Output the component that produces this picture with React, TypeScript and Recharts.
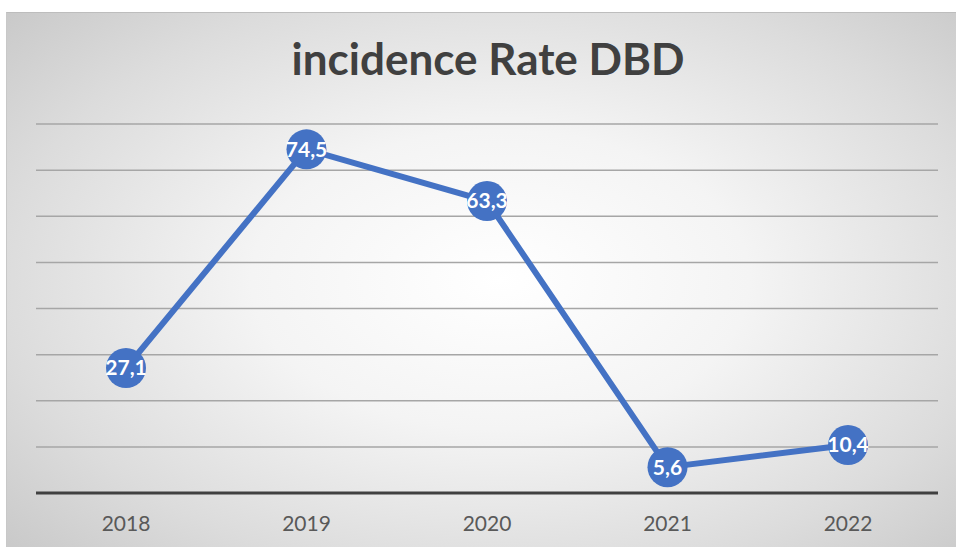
import { CartesianGrid, LabelList, Line, LineChart, XAxis, YAxis } from "recharts";

const years = ["2018", "2019", "2020", "2021", "2022"];
const incidence = [27.1, 74.5, 63.3, 5.6, 10.4];
const yTicks = [0, 10, 20, 30, 40, 50, 60, 70, 80];

const data = years.map((year, i) => ({ year, value: incidence[i] }));

const BLUE = "#4472C4";
const FONT = "Lato, 'Open Sans', sans-serif";

function PointLabel(props: any) {
  const { x, y, value } = props;
  return (
    <text
      x={x}
      y={y}
      dy="0.35em"
      textAnchor="middle"
      fill="#ffffff"
      fontSize={21}
      fontWeight={700}
      fontFamily={FONT}
    >
      {String(value).replace(".", ",")}
    </text>
  );
}

export default function App() {
  return (
    <div
      style={{
        position: "absolute",
        left: 6,
        top: 12,
        width: 950,
        height: 535,
        background:
          "radial-gradient(ellipse 75% 80% at 52% 50%, #ffffff 0%, #f4f4f4 35%, #dcdcdc 70%, #c4c4c4 100%)",
        borderTop: "1px solid #bdbdbd",
        borderLeft: "1px solid #c8c8c8",
        boxSizing: "border-box",
      }}
    >
      <div
        style={{
          position: "absolute",
          left: 13,
          right: 0,
          top: 19,
          textAlign: "center",
          fontFamily: FONT,
          fontWeight: 700,
          fontSize: 44,
          color: "#404040",
          lineHeight: "52px",
        }}
      >
        incidence Rate DBD
      </div>
      <LineChart
        width={950}
        height={535}
        data={data}
        margin={{ top: 111, right: 18, bottom: 0, left: 30 }}
        style={{ position: "absolute", left: -1, top: 0 }}
      >
        <CartesianGrid
          vertical={false}
          stroke="#a6a6a6"
          strokeWidth={1.5}
          horizontalValues={yTicks}
        />
        <YAxis hide domain={[0, 80]} ticks={yTicks} />
        <XAxis
          dataKey="year"
          height={55}
          padding={{ left: 90, right: 90 }}
          axisLine={{ stroke: "#404040", strokeWidth: 3 }}
          tickLine={false}
          tick={{ fill: "#595959", fontSize: 21, fontFamily: FONT }}
          dy={15}
        />
        <Line
          dataKey="value"
          stroke={BLUE}
          strokeWidth={6}
          dot={{ r: 20, fill: BLUE, stroke: "none" }}
          activeDot={false}
          isAnimationActive={false}
        >
          <LabelList dataKey="value" content={<PointLabel />} />
        </Line>
      </LineChart>
    </div>
  );
}
